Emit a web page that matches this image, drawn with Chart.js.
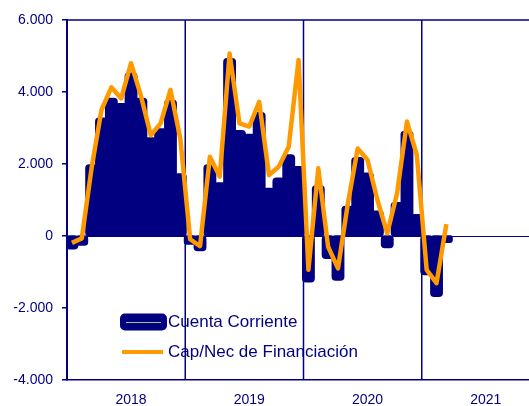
<!DOCTYPE html>
<html>
<head>
<meta charset="utf-8">
<script src="https://cdn.jsdelivr.net/npm/chart.js@4/dist/chart.umd.min.js"></script>
<style>
  html, body { margin: 0; padding: 0; background: #fff; overflow: hidden; }
  #wrap { position: relative; width: 541px; height: 406px; }
</style>
</head>
<body>
<div id="wrap"><canvas id="chart"></canvas></div>
<script>
// months Jan 2018 .. Dec 2021
const years = ['2018', '2019', '2020', '2021'];
const months = ['ene', 'feb', 'mar', 'abr', 'may', 'jun', 'jul', 'ago', 'sep', 'oct', 'nov', 'dic'];
const categories = [];
years.forEach(y => months.forEach(m => categories.push(m + '-' + y.slice(2))));

// Cuenta Corriente (bars)
const cuentaCorriente = [
  -330, -230, 1950, 3250, 3800, 3650, 4500, 3800, 2700, 2950, 3750, 1700,
  -200, -380, 1950, 1450, 4900, 2900, 2800, 3400, 1300, 1580, 2230, 1900,
  -1250, 1370, -600, -1200, 800, 2150, 1720, 670, -300, 900, 2880, 570,
  -1050, -1650, -150
];
// Cap/Nec de Financiación (line)
const capNec = [
  -190, -65, 1900, 3500, 4130, 3820, 4800, 3900, 2800, 3130, 4060, 2700,
  -90, -280, 2200, 1650, 5070, 3130, 3040, 3730, 1690, 1930, 2480, 4890,
  -940, 1880, -300, -900, 900, 2430, 2110, 1000, 75, 1190, 3180, 2250,
  -940, -1310, 330
];
const yTicks = [-4000, -2000, 0, 2000, 4000, 6000];

const navy = '#000080';
const orange = '#ff9900';
const fmt = v => v.toLocaleString('de-DE');

const framePlugin = {
  id: 'frame',
  beforeDatasetsDraw(chart) {
    const {ctx, chartArea: a, scales: {x, y}} = chart;
    ctx.save();
    ctx.strokeStyle = navy;
    ctx.lineWidth = 1.5;
    ctx.beginPath();
    ctx.moveTo(a.left, a.top);
    ctx.lineTo(a.right, a.top);
    // year separators
    for (let i = 12; i < categories.length; i += 12) {
      const px = (x.getPixelForValue(i - 1) + x.getPixelForValue(i)) / 2;
      ctx.moveTo(px, a.top);
      ctx.lineTo(px, a.bottom);
    }
    ctx.stroke();
    ctx.lineWidth = 1;
    ctx.beginPath();
    const y0 = Math.round(y.getPixelForValue(0)) + 0.5;
    ctx.moveTo(a.left, y0);
    ctx.lineTo(a.right, y0);
    ctx.stroke();
    ctx.restore();
  },
  afterDraw(chart) {
    const {ctx, chartArea: a} = chart;
    const ds = chart.data.datasets;
    const barDs = ds.find(d => d.type === 'bar');
    const lineDs = ds.find(d => d.type === 'line');
    const lx = a.left + 53, ly1 = 322, ly2 = 352;
    ctx.save();
    // bar entry
    ctx.fillStyle = navy;
    ctx.beginPath();
    ctx.roundRect(lx, ly1 - 8.5, 47, 17, 5);
    ctx.fill();
    ctx.strokeStyle = '#9acd6a';
    ctx.lineWidth = 1;
    ctx.beginPath();
    ctx.moveTo(lx + 6, ly1 + 0.5);
    ctx.lineTo(lx + 41, ly1 + 0.5);
    ctx.stroke();
    // line entry
    ctx.strokeStyle = orange;
    ctx.lineWidth = 4;
    ctx.beginPath();
    ctx.moveTo(lx + 2, ly2);
    ctx.lineTo(lx + 43, ly2);
    ctx.stroke();
    ctx.fillStyle = navy;
    ctx.font = '17px "Liberation Sans", Arial, sans-serif';
    ctx.textBaseline = 'middle';
    ctx.fillText(barDs.label, lx + 48, ly1);
    ctx.fillText(lineDs.label, lx + 48, ly2);
    ctx.restore();
  }
};

new Chart(document.getElementById('chart'), {
  data: {
    labels: categories,
    datasets: [
      {
        type: 'line',
        label: 'Cap/Nec de Financiación',
        data: capNec,
        borderColor: orange,
        borderWidth: 4.5,
        borderJoinStyle: 'round',
        pointRadius: 0,
        tension: 0,
        order: 1
      },
      {
        type: 'bar',
        label: 'Cuenta Corriente',
        data: cuentaCorriente,
        backgroundColor: navy,
        borderWidth: 0,
        borderRadius: 4,
        borderSkipped: false,
        inflateAmount: 1.5,
        barPercentage: 1,
        categoryPercentage: 1,
        order: 2
      }
    ]
  },
  options: {
    responsive: true,
    maintainAspectRatio: false,
    animation: false,
    layout: { padding: { top: 20, right: 1, left: 0, bottom: 0 } },
    plugins: { legend: { display: false }, tooltip: { enabled: false } },
    scales: {
      x: {
        type: 'category',
        offset: true,
        grid: { display: false },
        border: { display: true, color: navy, width: 1.5 },
        ticks: {
          autoSkip: false,
          maxRotation: 0,
          padding: 4,
          color: navy,
          font: { family: '"Liberation Sans", Arial, sans-serif', size: 14 },
          callback: (v, i) => i % 12 === 6 ? years[Math.floor(i / 12)] : ''
        },
        afterFit: s => { s.height = 26; }
      },
      y: {
        min: -4000,
        max: 6000,
        afterBuildTicks: s => { s.ticks = yTicks.map(v => ({ value: v })); },
        grid: { display: true, drawOnChartArea: false, drawTicks: true, tickLength: 5, color: navy, lineWidth: 1.5 },
        border: { display: true, color: navy, width: 2 },
        ticks: {
          padding: 9,
          color: navy,
          font: { family: '"Liberation Sans", Arial, sans-serif', size: 14 },
          callback: v => fmt(v)
        },
        afterFit: s => { s.width = 67; }
      }
    }
  },
  plugins: [framePlugin]
});
</script>
</body>
</html>
